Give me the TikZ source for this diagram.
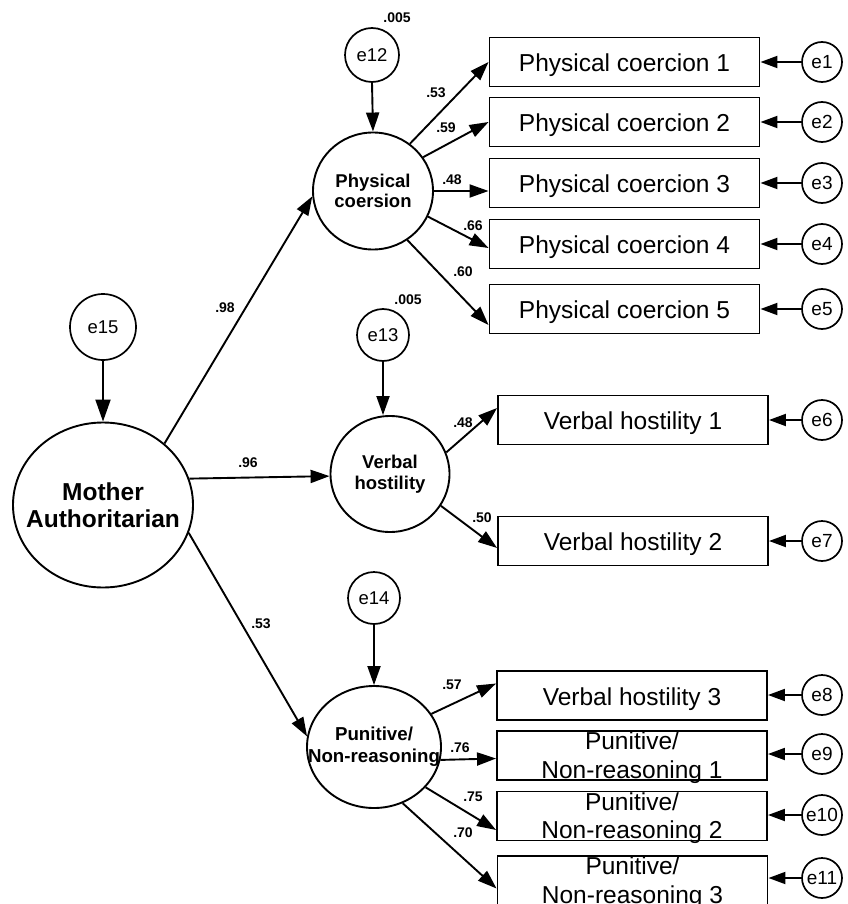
\documentclass[tikz,border=0pt]{standalone}
\usepackage{fontspec}
\setmainfont{Liberation Sans}
\usetikzlibrary{arrows.meta,shapes.geometric,calc}
\begin{document}
\begin{tikzpicture}[x=1pt,y=-1pt,
 every node/.style={inner sep=0pt},
 lat/.style={draw, ellipse, line width=1.9pt},
 lattext/.style={align=center, inner sep=0pt, font=\fontsize{18.5}{20.5}\selectfont\bfseries},
 err/.style={draw, circle, line width=1.7pt, font=\fontsize{18.5}{21}\selectfont},
 errs/.style={err, minimum size=40pt, font=\fontsize{19}{21}\selectfont},
 box/.style={draw, rectangle, line width=1.9pt, minimum width=270pt, minimum height=49pt, text height=21.5pt, text depth=2.5pt, font=\fontsize{24.5}{28.5}\selectfont},
 box2/.style={box, align=center, text height=47pt, text depth=2pt},
 lbl/.style={font=\fontsize{14}{16}\selectfont\bfseries},
 arr/.style={-{Triangle[length=19pt,width=13pt]}, line width=1.9pt},
 bigarr/.style={-{Triangle[length=22pt,width=15pt]}, line width=1.9pt},
 earr/.style={-{Triangle[length=17pt,width=12pt]}, line width=1.9pt},
]
\useasboundingbox (0,0) rectangle (847,904);

% latent variables
\node[lat, minimum width=180pt, minimum height=165pt,
  label={[lattext, font=\fontsize{24.5}{27}\selectfont\bfseries]center:Mother\\Authoritarian}] (M) at (103,505) {};
\node[lat, minimum width=120pt, minimum height=117pt,
  label={[lattext]center:Physical\\coersion}] (P) at (373,191) {};
\node[lat, minimum width=119pt, minimum height=116pt,
  label={[lattext]center:Verbal\\hostility}] (V) at (390,474) {};
\node[lat, minimum width=134pt, minimum height=122pt,
  label={[lattext, font=\fontsize{18.7}{22}\selectfont\bfseries]center:Punitive/\\Non-reasoning}] (N) at (374,747) {};

% disturbances
\node[err, minimum size=66pt] (e15) at (103,327) {e15};
\node[err, minimum size=54pt] (e12) at (372,55) {e12};
\node[err, minimum size=52pt] (e13) at (383,335) {e13};
\node[err, minimum size=52pt] (e14) at (374,598) {e14};

% indicators
\node[box] (b1) at (624.5,62) {Physical coercion 1};
\node[box] (b2) at (624.5,122) {Physical coercion 2};
\node[box] (b3) at (624.5,183) {Physical coercion 3};
\node[box] (b4) at (624.5,244) {Physical coercion 4};
\node[box] (b5) at (624.5,309) {Physical coercion 5};
\node[box] (b6) at (633,420) {Verbal hostility 1};
\node[box] (b7) at (633,541) {Verbal hostility 2};
\node[box] (b8) at (632,695.5) {Verbal hostility 3};
\node[box2] (b9) at (632,755.5) {Punitive/\\Non-reasoning 1};
\node[box2] (b10) at (632,816) {Punitive/\\Non-reasoning 2};
\node[box2] (b11) at (632.5,880.5) {Punitive/\\Non-reasoning 3};

% measurement errors
\node[errs] (e1) at (822,62) {e1};
\node[errs] (e2) at (822,122) {e2};
\node[errs] (e3) at (822,183) {e3};
\node[errs] (e4) at (822,244) {e4};
\node[errs] (e5) at (822,309) {e5};
\node[errs] (e6) at (822,420) {e6};
\node[errs] (e7) at (822,541) {e7};
\node[errs] (e8) at (822,695) {e8};
\node[errs] (e9) at (822,754) {e9};
\node[errs] (e10) at (822,815) {e10};
\node[errs] (e11) at (822,878) {e11};

% structural paths
\draw[bigarr] (e15) -- (M);
\draw[arr] (e12.south) -- (P.north);
\draw[arr] (e13.south) -- (e13.south |- V.north);
\draw[arr] (e14) -- (N);
\draw[arr] (M.45) -- (P.185);
\draw[arr] (M.17) -- (V.182);
\draw[arr] (M.-18) -- (N.171);

% loadings
\draw[arr] (P.52) -- (b1.west);
\draw[arr] (P.34) -- (b2.west);
\draw[arr] (P.0) -- ($(b3.west)+(0,8)$);
\draw[arr] (P.-25) -- ($(b4.west)+(0,4)$);
\draw[arr] (P.-55) -- ($(b5.west)+(0,16)$);
\draw[arr] (V.21) -- ($(b6.west)+(0,-12)$);
\draw[arr] (V.-32) -- ($(b7.west)+(0,7)$);
\draw[arr] (N.30) -- ($(b8.west)+(0,-12)$);
\draw[arr] (N.-11) -- ($(b9.west)+(0,3)$);
\draw[arr] (N.-38) -- ($(b10.west)+(0,14)$);
\draw[arr] (N.-63) -- ($(b11.west)+(0,8)$);

% error arrows
\foreach \i in {1,...,11} {\draw[earr] (e\i.west) -- (e\i.west -| b\i.east);}

% coefficient labels
\node[lbl] (t1) at (397,18) {.005};
\node[lbl] (t2) at (408,300) {.005};
\node[lbl] (t3) at (225,308) {.98};
\node[lbl] (t4) at (248,463) {.96};
\node[lbl] (t5) at (261,624) {.53};
\node[lbl] (t6) at (436,93) {.53};
\node[lbl] (t7) at (446,128) {.59};
\node[lbl] (t8) at (452,180) {.48};
\node[lbl] (t9) at (473,226) {.66};
\node[lbl] (t10) at (463,272) {.60};
\node[lbl] (t11) at (463,423) {.48};
\node[lbl] (t12) at (482,518) {.50};
\node[lbl] (t13) at (452,685) {.57};
\node[lbl] (t14) at (460,748) {.76};
\node[lbl] (t15) at (473,797) {.75};
\node[lbl] (t16) at (463,833) {.70};
\end{tikzpicture}
\end{document}
